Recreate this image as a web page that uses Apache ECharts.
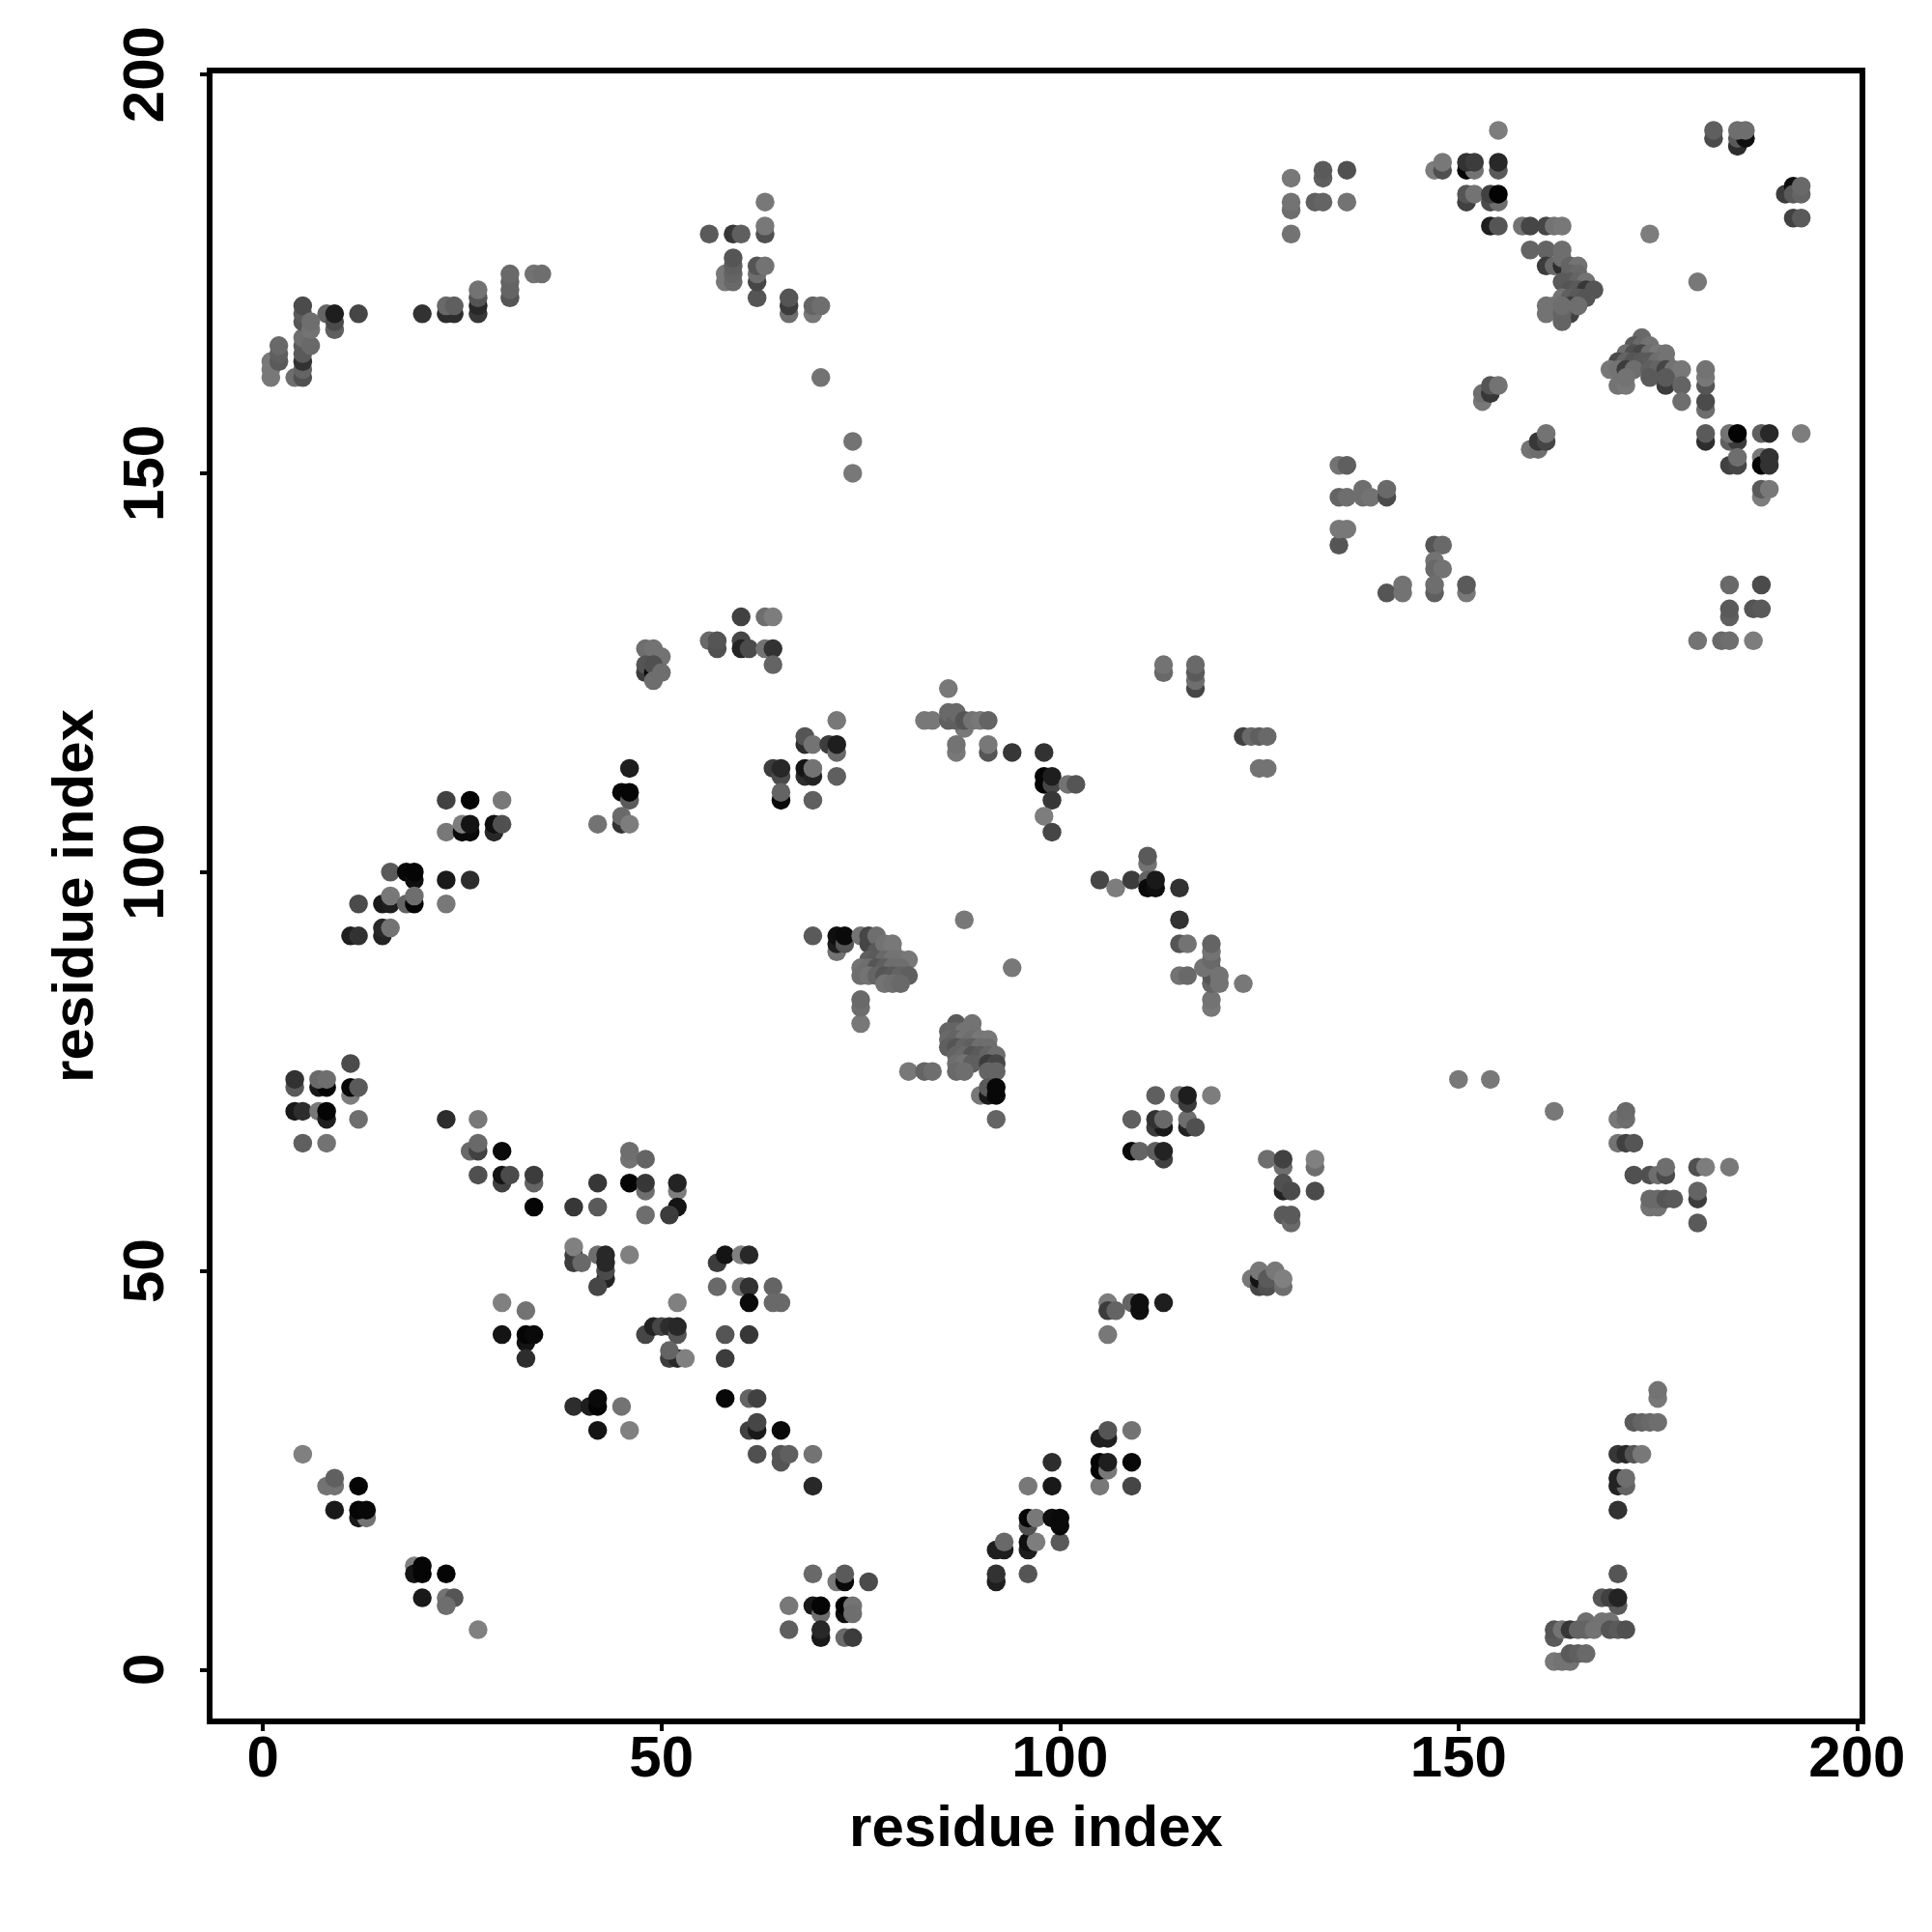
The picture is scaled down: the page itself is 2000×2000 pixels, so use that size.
<!DOCTYPE html>
<html><head><meta charset="utf-8">
<style>html,body{margin:0;padding:0;background:#fff}#c{width:2000px;height:2000px}</style>
<script src="https://cdn.jsdelivr.net/npm/echarts@6/dist/echarts.min.js"></script>
</head><body><div id="c"></div>
<script>
// each contact: [residue i, residue j, grey level 0-128]
const bottomLeft=[[5,27,128],[8,23,115],[9,23,115],[9,24,96],[12,23,5],[9,20,25],[12,19,25],[13,19,115],[12,20,5],[13,20,8],
[19,13,128],[19,12,20],[20,12,5],[20,13,5],[23,12,5],[20,9,25],[23,9,115],[24,9,85],[23,8,110],[27,5,128]];
const lowerMid=[[30,46,128],[33,45,115],[30,42,20],[33,41,20],[33,42,5],[34,42,10],[33,39,45],
[39,33,45],[41,33,30],[42,33,5],[42,34,10],[45,33,115],[42,30,20],[46,30,128],
[39,52,60],[39,51,60],[39,53,128],[40,51,105],[42,52,110],[43,49,35],[43,50,75],[43,51,40],[43,52,40],[42,48,70],[46,52,128],
[52,46,128],[48,42,70],[49,43,35],[50,43,70],[51,43,45],[52,42,85],[52,43,40],[51,39,60],[52,39,40],[51,40,100],[53,39,128],
[57,51,60],[58,52,20],[60,52,128],[61,52,40],[57,48,105],[60,48,115],[61,48,50],[64,48,100],[61,46,10],[64,46,105],[65,46,105],
[58,42,85],[61,42,55],[58,39,60],[58,34,8],[61,34,100],[62,34,65],[61,30,65],[62,30,25],[62,31,70],[65,30,10],
[62,27,80],[65,26,85],[65,27,85],[66,27,95],[69,27,115],[69,23,40]];
const bottomMid=[[69,12,105],[72,11,120],[73,11,10],[73,12,90],[76,11,75],[66,8,120],[69,8,25],[70,7,110],[70,8,5],[73,7,15],[73,8,5],[74,8,115],[74,7,110],
[66,5,95],[70,4,25],[70,5,40],[73,4,105],[74,4,60],
[92,11,30],[92,12,50],[96,12,85],[92,15,30],[93,15,30],[93,16,105],[96,15,30],[96,16,15],[97,16,125],[100,16,90],
[96,18,80],[96,19,5],[97,19,120],[99,19,15],[100,18,10],[100,19,10],[96,23,120],[99,23,25],[99,26,45],[105,23,120],[109,23,70],
[105,25,5],[105,26,5],[106,25,120],[106,26,30],[109,26,8],[105,29,30],[106,29,30],[106,30,85],[109,30,115],
[106,46,125],[106,45,60],[107,45,100],[109,46,100],[110,45,15],[110,46,15],[113,46,30],[106,42,120]];
const bottomRight=[[150,74,120],[154,74,120],[162,70,120],[170,69,120],[171,69,110],[171,70,105],[170,66,115],[171,66,65],[172,66,85],
[172,62,80],[174,62,80],[175,62,110],[176,62,75],[176,63,110],[180,63,80],[181,63,125],[184,63,120],[180,59,60],[180,60,100],[180,56,90],
[174,58,115],[175,58,115],[174,59,105],[175,59,105],[176,59,85],[177,59,90],[175,34,120],[175,35,115],[172,31,90],[173,31,100],[174,31,105],[175,31,110],
[170,27,55],[171,27,40],[172,27,85],[173,27,120],[170,23,35],[171,23,100],[170,24,35],[171,24,110],[170,20,50],[170,12,85],
[170,8,90],[168,9,85],[169,9,65],[170,9,35],[162,4,90],[166,6,110],[168,6,115],[169,6,115],[162,5,85],[163,5,115],[164,5,55],[165,5,100],[166,5,100],[167,5,115],[169,5,85],[170,5,90],[171,5,80],
[162,1,120],[163,1,115],[164,1,115],[164,2,90],[165,2,95],[166,2,105]];
const midLower=[[109,69,95],[112,68,60],[113,68,25],[112,69,50],[113,69,105],[116,68,35],[116,69,110],[117,68,80],[112,72,95],[115,72,115],[116,71,60],[116,72,30],[119,72,125],
[109,65,10],[110,65,100],[113,64,65],[112,65,95],[113,65,35],
[126,64,110],[128,63,110],[128,64,65],[132,63,110],[132,64,130],[128,60,35],[128,61,80],[129,60,75],[132,60,75],[128,57,90],[129,56,105],[129,57,90],
[124,49,120],[125,48,70],[125,49,20],[125,50,120],[126,48,80],[126,49,90],[128,48,110],[127,50,120],[128,49,130]];
const leftBand=[[46,113,30],[45,110,8],[46,109,90],[46,110,5],[45,106,50],[45,107,105],[46,106,125],[42,106,115],
[23,109,65],[26,109,5],[30,109,120],[23,105,120],[25,105,10],[26,105,10],[25,106,125],[26,106,20],[29,105,40],[29,106,15],[30,106,80],
[16,100,90],[18,100,8],[19,99,15],[19,100,5],[23,99,25],[26,99,45],[12,96,75],[15,96,25],[16,96,30],[16,97,120],[18,96,100],[19,96,5],[19,97,110],[23,96,120],
[11,92,30],[12,92,50],[15,92,35],[15,93,40],[16,93,115],
[11,76,75],[4,73,90],[4,74,50],[7,73,25],[8,73,5],[7,74,105],[8,74,110],[11,72,125],[11,73,8],[12,73,90],[4,70,25],[5,70,45],[7,70,120],[8,69,30],[8,70,5],[12,69,110],[5,66,95],[8,66,115],
[23,69,45],[27,69,120],[26,65,105],[27,65,65],[27,66,105],[30,65,10],[27,62,80],[30,61,65],[30,62,20],[31,62,75],[34,61,100],[34,62,60],[34,58,5],[39,58,55],[42,58,90],
[42,61,55],[46,61,5],[48,60,110],[48,61,55],[52,60,125],[52,61,35],[52,58,20],[51,57,60],[48,57,110],[46,64,115],[46,65,110],[48,64,100]];
const topLeft=[[1,162,120],[1,163,120],[1,164,120],[2,164,90],[2,165,95],[2,166,105],[4,162,110],[5,162,80],[5,163,100],[5,164,50],[5,165,90],[5,166,90],[5,167,110],[5,169,85],[5,170,90],[5,171,75],
[6,166,105],[6,168,115],[6,169,110],[8,170,100],[9,168,95],[9,169,75],[9,170,30],[12,170,70],[20,170,50],[23,170,45],[24,170,45],[23,171,105],[24,171,95],
[27,170,55],[27,171,40],[27,172,85],[27,173,115],[31,172,85],[31,173,100],[31,174,100],[31,175,105],[34,175,115],[35,175,110]];
const topMid=[[56,180,90],[59,180,55],[60,180,95],[63,184,120],[63,180,80],[63,181,120],[58,174,120],[58,175,120],[59,174,105],[59,175,100],[59,176,95],[59,177,85],
[62,172,85],[62,174,70],[62,175,110],[62,176,85],[63,176,115],[66,170,110],[66,171,60],[66,172,85],[69,170,120],[69,171,100],[70,171,110],[70,162,115],[74,154,115],[74,150,120],
[60,132,65],[63,132,110],[64,132,125],[56,129,105],[57,128,80],[57,129,85],[60,129,70],[60,128,35],[61,128,75],[63,128,115],[64,128,50],[64,126,100],
[48,128,110],[49,128,115],[50,127,115],[48,125,60],[48,126,85],[49,125,10],[49,126,80],[49,124,110],[50,125,110]];
const centerUpper=[[72,119,120],[68,116,45],[68,117,85],[69,116,115],[71,116,60],[72,115,105],[72,116,30],[64,113,60],[65,112,75],[65,113,40],[68,112,45],[68,113,20],[69,112,35],[69,113,115],[72,112,95],
[65,109,10],[65,110,100],[69,109,95],[86,123,120],[83,119,120],[84,119,120],[88,118,120],[86,119,95],[86,120,105],[87,119,95],[87,120,105],[88,119,85],[89,119,115],[90,119,120],[91,119,100],
[87,115,120],[87,116,115],[91,115,85],[91,116,120],[94,115,55],[98,115,50],[98,111,5],[98,112,5],[99,111,70],[99,112,30],[101,111,115],[102,111,85],[99,109,55],[98,107,125],[99,105,70],
[105,99,70],[107,98,125],[109,99,60],[111,101,115],[111,102,90],[111,99,100],[111,98,10],[112,98,15],[112,99,25],[115,98,50],[115,94,50],[115,91,85],[116,91,115],[115,87,115],[116,87,105],
[119,83,120],[119,84,115],[119,86,100],[119,87,85],[119,88,90],[118,88,115],[119,89,105],[119,90,115],[119,91,100],[120,86,115],[120,87,115],[123,86,120],
[113,125,105],[113,126,115],[117,123,70],[117,124,110],[117,125,90],[117,126,105],[123,117,65],[124,117,105],[125,117,95],[126,117,105],[125,113,115],[126,113,115]];
const clusterA=[[69,92,90],[72,90,115],[72,91,30],[72,92,15],[73,91,85],[73,92,10],[75,92,115],[76,91,70],[76,92,70],[77,92,110],[77,90,90],[78,91,115],[79,91,120],[79,90,120],
[76,89,95],[77,89,90],[78,89,105],[79,89,115],[80,89,115],[81,89,120],[75,88,115],[76,88,110],[77,88,85],[78,88,95],[79,88,110],[80,88,110],
[75,87,110],[76,87,115],[77,87,100],[78,87,85],[79,87,90],[80,87,100],[81,87,95],[78,86,115],[79,86,110],[80,86,105],[88,94,120],[94,88,120],[75,81,120],[75,83,110],[75,84,105]];
const clusterB=[[81,75,120],[83,75,100],[84,75,110],[87,81,90],[89,81,115],[86,80,100],[87,80,100],[88,80,115],[89,80,115],[86,79,105],[87,79,100],[88,79,115],[89,79,110],[90,79,120],[91,79,120],
[86,78,95],[87,78,85],[88,78,100],[89,78,95],[90,78,110],[91,78,110],[87,77,100],[88,77,105],[89,77,85],[90,77,90],[91,77,100],[92,77,110],
[87,76,110],[88,76,115],[89,76,95],[91,76,60],[92,76,70],[87,75,105],[88,75,110],[91,75,100],[92,75,100],[90,72,120],[91,72,25],[91,73,90],[92,72,8],[92,73,8],[92,69,100]];
const rightMid=[[135,141,85],[135,143,120],[136,143,120],[135,147,100],[136,147,110],[138,147,110],[138,148,110],[139,147,115],[141,147,75],[141,148,105],[135,151,115],[136,151,95],
[147,141,85],[148,141,105],[147,139,115],[147,138,105],[148,138,115],[141,135,85],[143,135,115],[143,136,115],[147,135,95],[147,136,110],[151,135,120],[151,136,90],
[184,136,105],[188,136,75],[184,132,95],[184,133,90],[187,133,85],[188,133,90],[180,129,115],[183,129,105],[184,129,110],[187,129,125]];
const topRight=[[129,187,120],[133,187,95],[133,188,90],[136,188,80],[129,183,110],[129,184,115],[132,184,95],[133,184,100],[136,184,115],[129,180,115],
[147,188,125],[148,188,80],[148,189,120],[155,193,125],[151,188,5],[152,188,115],[151,189,50],[152,189,60],[155,188,90],[155,189,40],
[151,184,65],[151,185,85],[152,185,115],[154,184,75],[155,184,110],[154,185,65],[155,185,3],[154,181,30],[155,181,85],[158,181,115],[159,181,70],[161,181,70],[162,181,115],[163,181,120],
[159,178,100],[161,178,100],[163,178,110],[161,176,60],[162,176,105],[163,176,45],[163,177,110],[164,176,100],[165,176,115],[164,175,100],[165,175,105],
[163,174,90],[164,174,90],[165,174,100],[166,174,115],[164,173,85],[165,173,90],[166,173,55],[167,173,85],[163,172,115],[164,172,95],[165,172,90],[166,172,85],
[161,170,115],[161,171,115],[162,171,115],[164,170,65],[164,171,60],[163,169,100],[163,170,100],[163,171,110],[165,171,110],
[174,180,125],[180,174,120],[182,192,75],[182,193,95],[185,191,45],[185,192,90],[186,192,15],[185,193,110],[186,193,110],[191,185,60],[192,186,15],[192,185,90],[193,185,100],[193,186,105],[192,182,65],[193,182,90],
[153,159,120],[153,160,110],[154,160,55],[154,161,85],[155,161,115],[159,153,115],[160,153,110],[160,154,55],[161,154,70],[161,155,115]];
const diagonal=[[173,167,105],[172,166,90],[173,166,105],[174,166,115],[171,165,110],[172,165,80],[173,165,70],[174,165,110],[175,165,120],[176,165,115],
[170,164,75],[171,164,100],[172,164,85],[173,164,90],[174,164,90],[175,164,110],[176,164,115],[169,163,120],[170,163,115],[171,163,60],[172,163,110],[174,163,95],[175,163,100],[176,163,70],[177,163,115],[178,163,120],
[170,161,115],[171,161,120],[171,162,115],[174,162,90],[176,161,60],[176,162,90],[178,161,100],[178,159,110],[181,158,110],[181,159,75],[181,161,85],[181,162,120],[181,163,115],
[181,154,45],[181,155,90],[184,154,95],[185,154,60],[184,155,115],[185,155,3],[188,155,95],[189,155,40],[193,155,125],
[184,151,65],[185,151,70],[185,152,110],[188,152,120],[188,151,5],[189,151,50],[189,152,50],[188,147,125],[188,148,90],[189,148,120]];

const tickValues=[0,50,100,150,200];
const axisTitle='residue index';
const allContacts=[].concat(bottomLeft,lowerMid,bottomMid,bottomRight,midLower,leftBand,topLeft,topMid,centerUpper,clusterA,clusterB,rightMid,topRight,diagonal);

const font='"Liberation Sans", Arial, sans-serif';
function axis(extra){
  return Object.assign({
    type:'value',
    name:axisTitle,nameLocation:'middle',
    nameTextStyle:{fontFamily:font,fontWeight:'bold',fontSize:60,color:'#000'},
    axisLine:{show:false,onZero:false},splitLine:{show:false},minorTick:{show:false},
    axisTick:{show:true,customValues:tickValues,length:10,lineStyle:{color:'#000',width:4}},
  },extra);
}
const chart=echarts.init(document.getElementById('c'),null,{renderer:'canvas',width:2000,height:2000});
chart.setOption({
  animation:false,backgroundColor:'#fff',
  grid:{left:217,top:73,width:1711,height:1709,show:true,backgroundColor:'transparent',borderColor:'#000',borderWidth:6,containLabel:false},
  xAxis:axis({min:-6.68,max:200.68,nameGap:82,
    axisLabel:{customValues:tickValues,fontFamily:font,fontWeight:'bold',fontSize:60,color:'#000',margin:10,hideOverlap:false}}),
  yAxis:axis({min:-6.5,max:200.5,nameGap:108,nameRotate:90,
    axisLabel:{customValues:tickValues,fontFamily:font,fontWeight:'bold',fontSize:60,color:'#000',margin:35,rotate:90,hideOverlap:false,align:'center',verticalAlign:'bottom'}}),
  visualMap:{show:false,type:'continuous',min:0,max:128,dimension:2,seriesIndex:0,inRange:{color:['#000000','#808080']}},
  series:[{type:'scatter',data:allContacts,symbol:'circle',symbolSize:19.5,large:false,progressive:0,clip:false,itemStyle:{opacity:1}}]
});
</script></body></html>
